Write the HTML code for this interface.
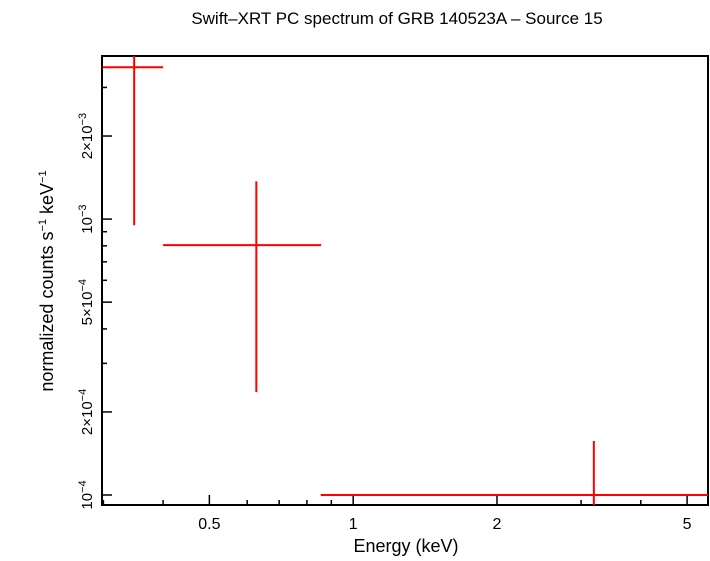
<!DOCTYPE html>
<html><head><meta charset="utf-8"><style>
body{margin:0;background:#fff;}
svg text{font-family:"Liberation Sans",Helvetica,sans-serif;fill:#000;}
</style></head><body>
<svg id="chart" width="710" height="556" viewBox="0 0 710 556" xmlns="http://www.w3.org/2000/svg">
<text x="397" y="24" text-anchor="middle" font-size="17">Swift–XRT PC spectrum of GRB 140523A – Source 15</text>
<g id="axes"></g>
<g id="marks"></g>
<text x="406" y="552" text-anchor="middle" font-size="18">Energy (keV)</text>
<text transform="translate(53,281) rotate(-90)" text-anchor="middle" font-size="18">normalized counts s<tspan font-size="11" dy="-7">−1</tspan><tspan dy="7"> keV</tspan><tspan font-size="11" dy="-7">−1</tspan></text>
</svg>
<script>
const energy = [0.348, 0.627, 3.19];
const energyLo = [0.299, 0.40, 0.855];
const energyHi = [0.40, 0.857, 6.0];
const rate = [3.55e-3, 8.05e-4, 1.0e-4];
const rateLo = [9.5e-4, 2.36e-4, 5e-5];
const rateHi = [6e-3, 1.37e-3, 1.57e-4];
const xTickVals = [0.5, 1, 2, 5];
const xTickLabels = ["0.5", "1", "2", "5"];
const yTickVals = [1e-4, 2e-4, 5e-4, 1e-3, 2e-3];
const yTickLabels = [["10","−4"], ["2×10","−4"], ["5×10","−4"], ["10","−3"], ["2×10","−3"]];

const L=102,R=708,T=56,B=505;
const xMin=0.298,xMax=5.53,yMin=9.2e-5,yMax=3.9e-3;
const xs=v=>L+(Math.log10(v)-Math.log10(xMin))/(Math.log10(xMax)-Math.log10(xMin))*(R-L);
const ys=v=>B-(Math.log10(v)-Math.log10(yMin))/(Math.log10(yMax)-Math.log10(yMin))*(B-T);
const NS="http://www.w3.org/2000/svg";
const axes=document.getElementById('axes'), marks=document.getElementById('marks');
function ln(p,x1,y1,x2,y2,c,w){const e=document.createElementNS(NS,'line');e.setAttribute('x1',x1);e.setAttribute('y1',y1);e.setAttribute('x2',x2);e.setAttribute('y2',y2);e.setAttribute('stroke',c);e.setAttribute('stroke-width',w);p.appendChild(e);return e;}
const fr=document.createElementNS(NS,'rect');
fr.setAttribute('x',L);fr.setAttribute('y',T);fr.setAttribute('width',R-L);fr.setAttribute('height',B-T);fr.setAttribute('fill','none');fr.setAttribute('stroke','#000');fr.setAttribute('stroke-width','2');


axes.appendChild(fr);
for(let d=0.1;d<=10;d*=10){for(let k=1;k<10;k++){const v=k*d;if(v<xMin||v>xMax)continue;const x=xs(v);const major=xTickVals.some(t=>Math.abs(t-v)<1e-9);const len=major?10:5;
const t1=ln(axes,x,B,x,B-len,'#000',1.5);

}}
xTickVals.forEach((v,i)=>{const t=document.createElementNS(NS,'text');t.setAttribute('x',xs(v));t.setAttribute('y',529);t.setAttribute('text-anchor','middle');t.setAttribute('font-size','16');t.textContent=xTickLabels[i];


axes.appendChild(t);});
for(let d=1e-5;d<=1e-2;d*=10){for(let k=1;k<10;k++){const v=k*d;if(v<yMin||v>yMax)continue;const y=ys(v);const major=yTickVals.some(t=>Math.abs(t-v)/v<1e-6);const len=major?10:5;
const t1=ln(axes,L,y,L+len,y,'#000',1.5);

}}
yTickVals.forEach((v,i)=>{const t=document.createElementNS(NS,'text');t.setAttribute('transform','translate(92,'+ys(v)+') rotate(-90)');t.setAttribute('text-anchor','middle');t.setAttribute('font-size','15');
t.innerHTML=yTickLabels[i][0]+'<tspan font-size="11" dy="-6">'+yTickLabels[i][1]+'</tspan>';


axes.appendChild(t);});
const clip=document.createElementNS(NS,'clipPath');clip.setAttribute('id','pc');const cr=document.createElementNS(NS,'rect');cr.setAttribute('x',L);cr.setAttribute('y',T);cr.setAttribute('width',R-L);cr.setAttribute('height',B-T);clip.appendChild(cr);document.getElementById('chart').appendChild(clip);
marks.setAttribute('clip-path','url(#pc)');
energy.forEach((e,i)=>{
const h=ln(marks,xs(energyLo[i]),ys(rate[i]),xs(energyHi[i]),ys(rate[i]),'#f00',2);


const v=ln(marks,xs(e),ys(rateLo[i]),xs(e),ys(rateHi[i]),'#f00',2);


});
</script>
</body></html>
